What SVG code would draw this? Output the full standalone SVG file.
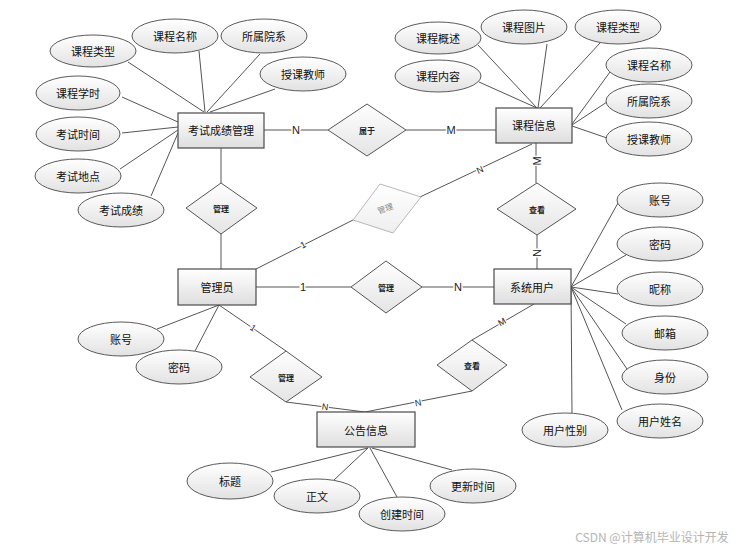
<svg xmlns="http://www.w3.org/2000/svg" width="748" height="550" viewBox="0 0 748 550">
<defs>
<linearGradient id="gr" x1="0" y1="0" x2="0" y2="1"><stop offset="0" stop-color="#ffffff"/><stop offset="1" stop-color="#dedede"/></linearGradient>
<linearGradient id="ge" x1="0" y1="0" x2="0" y2="1"><stop offset="0" stop-color="#ffffff"/><stop offset="1" stop-color="#e2e2e2"/></linearGradient>
<linearGradient id="gd" x1="0" y1="0" x2="0" y2="1"><stop offset="0" stop-color="#ffffff"/><stop offset="1" stop-color="#e4e4e4"/></linearGradient>
<linearGradient id="gl" x1="0" y1="0" x2="0" y2="1"><stop offset="0" stop-color="#ffffff"/><stop offset="1" stop-color="#eeeeee"/></linearGradient>
</defs>
<style>
.ent{fill:url(#gr);stroke:#4a4a4a;stroke-width:1.2}
.att{fill:url(#ge);stroke:#5a5a5a;stroke-width:1}
.rel{fill:url(#gd);stroke:#555;stroke-width:1}
.t{font-family:"Noto Sans CJK SC","Liberation Sans",sans-serif;font-size:11px;fill:#111;text-anchor:middle;dominant-baseline:central}
.td{font-family:"Noto Sans CJK SC","Liberation Sans",sans-serif;font-size:8px;font-weight:bold;fill:#222;text-anchor:middle;dominant-baseline:central}
.c{font-family:"Liberation Sans",sans-serif;font-size:11px;fill:#222;text-anchor:middle;dominant-baseline:central;stroke:#fff;stroke-width:3px;paint-order:stroke}
.cs{font-family:"Liberation Sans",sans-serif;font-size:9px;fill:#222;text-anchor:middle;dominant-baseline:central;stroke:#fff;stroke-width:2.5px;paint-order:stroke}
#connectors line{stroke:#555;stroke-width:1}
</style>
<rect width="748" height="550" fill="#fff"/>
<g id="connectors">
<line x1="128" y1="62" x2="204" y2="112"/>
<line x1="199" y1="51" x2="205" y2="112"/>
<line x1="260" y1="54" x2="207" y2="112"/>
<line x1="275" y1="89" x2="210" y2="112"/>
<line x1="122" y1="97" x2="178" y2="122"/>
<line x1="122" y1="133" x2="178" y2="127"/>
<line x1="120" y1="169" x2="178" y2="130"/>
<line x1="151" y1="196" x2="178" y2="133"/>
<line x1="264" y1="130" x2="328" y2="130"/>
<line x1="406" y1="130" x2="496" y2="130"/>
<line x1="221" y1="148" x2="221" y2="183"/>
<line x1="221" y1="234" x2="221" y2="269"/>
<line x1="478" y1="45" x2="537" y2="108"/>
<line x1="547" y1="44" x2="538" y2="108"/>
<line x1="600" y1="43" x2="540" y2="108"/>
<line x1="479" y1="82" x2="537" y2="108"/>
<line x1="610" y1="72" x2="572" y2="124"/>
<line x1="607" y1="102" x2="572" y2="125"/>
<line x1="607" y1="138" x2="572" y2="126"/>
<line x1="536" y1="143" x2="536" y2="183"/>
<line x1="537" y1="235" x2="537" y2="269"/>
<line x1="532" y1="144" x2="420" y2="197"/>
<line x1="256" y1="269" x2="353" y2="220"/>
<line x1="256" y1="287" x2="351" y2="287"/>
<line x1="422" y1="287" x2="494" y2="287"/>
<line x1="571" y1="287" x2="618" y2="203"/>
<line x1="571" y1="287" x2="626" y2="255"/>
<line x1="571" y1="287" x2="618" y2="294"/>
<line x1="571" y1="287" x2="626" y2="324"/>
<line x1="571" y1="287" x2="627" y2="369"/>
<line x1="571" y1="287" x2="622" y2="410"/>
<line x1="571" y1="287" x2="572" y2="413"/>
<line x1="157" y1="329" x2="219" y2="305"/>
<line x1="195" y1="351" x2="219" y2="305"/>
<line x1="219" y1="305" x2="286" y2="351"/>
<line x1="286" y1="402" x2="365" y2="412"/>
<line x1="472" y1="391" x2="365" y2="412"/>
<line x1="472" y1="340" x2="534" y2="304"/>
<line x1="271" y1="472" x2="368" y2="448"/>
<line x1="334" y1="480" x2="368" y2="448"/>
<line x1="397" y1="497" x2="370" y2="448"/>
<line x1="452" y1="470" x2="372" y2="448"/>
<text class="c" x="296" y="130">N</text>
<text class="c" x="451" y="130">M</text>
<text class="c" x="303" y="287">1</text>
<text class="c" x="458" y="287">N</text>
<text class="c" transform="translate(537,161) rotate(-90)">M</text>
<text class="c" transform="translate(537,253) rotate(90)">N</text>
<text class="cs" transform="translate(480,170) rotate(-25)">N</text>
<text class="cs" transform="translate(303,245) rotate(-27)">1</text>
<text class="cs" transform="translate(253,328) rotate(34)">1</text>
<text class="cs" transform="translate(325,407) rotate(7)">N</text>
<text class="cs" transform="translate(418,403) rotate(-11)">N</text>
<text class="cs" transform="translate(502,322) rotate(-30)">M</text>
</g>
<g id="exam"><rect class="ent" x="178" y="113" width="86" height="35"/><text class="t" x="221" y="130">考试成绩管理</text></g>
<g id="course"><rect class="ent" x="496" y="108" width="76" height="35"/><text class="t" x="534" y="125">课程信息</text></g>
<g id="admin"><rect class="ent" x="178" y="269" width="78" height="36"/><text class="t" x="217" y="287">管理员</text></g>
<g id="user"><rect class="ent" x="494" y="269" width="77" height="35"/><text class="t" x="532" y="287">系统用户</text></g>
<g id="notice"><rect class="ent" x="317" y="412" width="98" height="35"/><text class="t" x="366" y="430">公告信息</text></g>
<g id="r-belong"><polygon class="rel" points="367,104 406,130 367,156 328,130"/><text class="td" x="367" y="130">属于</text></g>
<g id="r-manage1"><polygon class="rel" points="221,183 257,208 221,234 186,208"/><text class="td" x="221" y="208">管理</text></g>
<g id="r-manage2"><polygon fill="url(#gl)" stroke="#b8b8b8" stroke-width="1" points="380,184 421,197 393,233 353,220"/><text class="td" style="fill:#888;font-weight:normal" transform="translate(385,208) rotate(-20)">管理</text></g>
<g id="r-manage3"><polygon class="rel" points="386,261 422,287 386,313 351,287"/><text class="td" x="386" y="287">管理</text></g>
<g id="r-view1"><polygon class="rel" points="537,183 576,209 537,235 497,209"/><text class="td" x="537" y="209">查看</text></g>
<g id="r-manage4"><polygon class="rel" points="286,351 322,377 286,402 250,377"/><text class="td" x="286" y="377">管理</text></g>
<g id="r-view2"><polygon class="rel" points="472,340 507,365 472,391 437,365"/><text class="td" x="472" y="365">查看</text></g>
<g id="exam-attrs">
<ellipse class="att" cx="93" cy="51" rx="43" ry="16"/><text class="t" x="93" y="51">课程类型</text>
<ellipse class="att" cx="175" cy="36" rx="43" ry="17"/><text class="t" x="175" y="36">课程名称</text>
<ellipse class="att" cx="264" cy="36" rx="43" ry="17"/><text class="t" x="264" y="36">所属院系</text>
<ellipse class="att" cx="303" cy="74" rx="43" ry="17"/><text class="t" x="303" y="74">授课教师</text>
<ellipse class="att" cx="78" cy="93" rx="42" ry="17"/><text class="t" x="78" y="93">课程学时</text>
<ellipse class="att" cx="78" cy="134" rx="42" ry="17"/><text class="t" x="78" y="134">考试时间</text>
<ellipse class="att" cx="78" cy="176" rx="43" ry="17"/><text class="t" x="78" y="176">考试地点</text>
<ellipse class="att" cx="121" cy="210" rx="43" ry="17"/><text class="t" x="121" y="210">考试成绩</text>
</g>
<g id="course-attrs">
<ellipse class="att" cx="438" cy="38" rx="43" ry="16"/><text class="t" x="438" y="38">课程概述</text>
<ellipse class="att" cx="524" cy="27" rx="43" ry="17"/><text class="t" x="524" y="27">课程图片</text>
<ellipse class="att" cx="618" cy="27" rx="43" ry="17"/><text class="t" x="618" y="27">课程类型</text>
<ellipse class="att" cx="438" cy="76" rx="43" ry="16"/><text class="t" x="438" y="76">课程内容</text>
<ellipse class="att" cx="649" cy="65" rx="43" ry="17"/><text class="t" x="649" y="65">课程名称</text>
<ellipse class="att" cx="649" cy="101" rx="43" ry="17"/><text class="t" x="649" y="101">所属院系</text>
<ellipse class="att" cx="649" cy="139" rx="43" ry="17"/><text class="t" x="649" y="139">授课教师</text>
</g>
<g id="user-attrs">
<ellipse class="att" cx="660" cy="200" rx="43" ry="17"/><text class="t" x="660" y="200">账号</text>
<ellipse class="att" cx="660" cy="244" rx="43" ry="17"/><text class="t" x="660" y="244">密码</text>
<ellipse class="att" cx="660" cy="289" rx="43" ry="17"/><text class="t" x="660" y="289">昵称</text>
<ellipse class="att" cx="665" cy="333" rx="43" ry="17"/><text class="t" x="665" y="333">邮箱</text>
<ellipse class="att" cx="665" cy="377" rx="43" ry="17"/><text class="t" x="665" y="377">身份</text>
<ellipse class="att" cx="660" cy="421" rx="43" ry="17"/><text class="t" x="660" y="421">用户姓名</text>
<ellipse class="att" cx="565" cy="430" rx="43" ry="17"/><text class="t" x="565" y="430">用户性别</text>
</g>
<g id="admin-attrs">
<ellipse class="att" cx="121" cy="339" rx="43" ry="17"/><text class="t" x="121" y="339">账号</text>
<ellipse class="att" cx="179" cy="367" rx="43" ry="17"/><text class="t" x="179" y="367">密码</text>
</g>
<g id="notice-attrs">
<ellipse class="att" cx="230" cy="481" rx="43" ry="18"/><text class="t" x="230" y="481">标题</text>
<ellipse class="att" cx="317" cy="496" rx="43" ry="17"/><text class="t" x="317" y="496">正文</text>
<ellipse class="att" cx="402" cy="514" rx="43" ry="17"/><text class="t" x="402" y="514">创建时间</text>
<ellipse class="att" cx="473" cy="486" rx="43" ry="17"/><text class="t" x="473" y="486">更新时间</text>
</g>
<text x="652" y="536" style="font-family:'Noto Sans CJK SC','Liberation Sans',sans-serif;font-size:12px;fill:#b4b4b4;text-anchor:middle;dominant-baseline:central">CSDN @计算机毕业设计开发</text>
</svg>
